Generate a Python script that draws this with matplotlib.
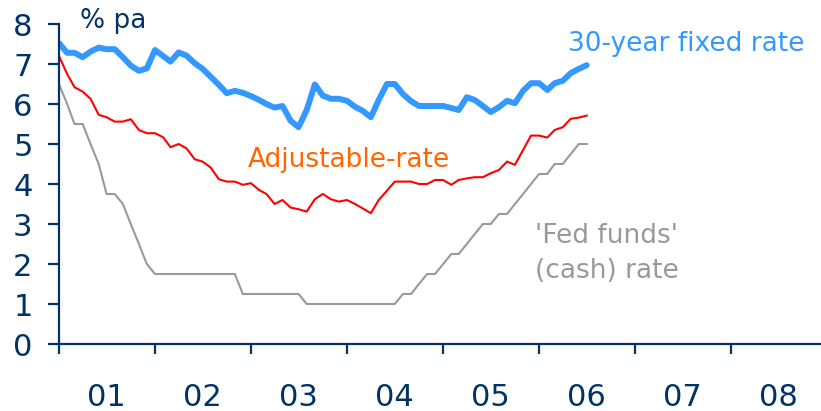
import numpy as np
import pandas as pd
import matplotlib
matplotlib.use('Agg')
from matplotlib import pyplot as plt
import matplotlib.dates as mdates

# monthly data, Jan 2001 onwards
months = pd.date_range('2001-01-01', periods=67, freq='MS')

fixed_30y = [7.52, 7.28, 7.28, 7.17, 7.31, 7.41, 7.37, 7.37, 7.17, 6.96, 6.83, 6.89,
             7.35, 7.20, 7.06, 7.29, 7.21, 7.02, 6.88, 6.68, 6.48, 6.27, 6.33, 6.28,
             6.20, 6.10, 6.00, 5.91, 5.95, 5.58, 5.42, 5.85, 6.49, 6.21, 6.13, 6.13,
             6.08, 5.93, 5.83, 5.67, 6.10, 6.50, 6.50, 6.25, 6.07, 5.95, 5.95, 5.95,
             5.95, 5.90, 5.85, 6.17, 6.10, 5.95, 5.80, 5.92, 6.08, 6.02, 6.33, 6.52,
             6.52, 6.35, 6.52, 6.58, 6.77, 6.88, 6.97]

adjustable = [7.20, 6.75, 6.42, 6.31, 6.13, 5.73, 5.67, 5.56, 5.56, 5.62, 5.35, 5.27,
              5.27, 5.17, 4.92, 5.00, 4.89, 4.62, 4.56, 4.41, 4.12, 4.06, 4.06, 3.98,
              4.02, 3.85, 3.75, 3.50, 3.60, 3.41, 3.37, 3.31, 3.62, 3.75, 3.62, 3.56,
              3.60, 3.50, 3.39, 3.27, 3.60, 3.83, 4.06, 4.06, 4.06, 4.00, 4.00, 4.10,
              4.10, 3.98, 4.10, 4.14, 4.17, 4.17, 4.27, 4.35, 4.56, 4.48, 4.85, 5.21,
              5.21, 5.16, 5.35, 5.42, 5.63, 5.66, 5.71]

fed_funds = [6.50, 6.00, 5.50, 5.50, 5.00, 4.50, 3.75, 3.75, 3.50, 3.00, 2.50, 2.00,
             1.75, 1.75, 1.75, 1.75, 1.75, 1.75, 1.75, 1.75, 1.75, 1.75, 1.75, 1.25,
             1.25, 1.25, 1.25, 1.25, 1.25, 1.25, 1.25, 1.00, 1.00, 1.00, 1.00, 1.00,
             1.00, 1.00, 1.00, 1.00, 1.00, 1.00, 1.00, 1.25, 1.25, 1.50, 1.75, 1.75,
             2.00, 2.25, 2.25, 2.50, 2.75, 3.00, 3.00, 3.25, 3.25, 3.50, 3.75, 4.00,
             4.25, 4.25, 4.50, 4.50, 4.75, 5.00, 5.00]

year_labels = ['01', '02', '03', '04', '05', '06', '07', '08']
y_ticks = [0, 1, 2, 3, 4, 5, 6, 7, 8]

navy = '#003366'
blue = '#3399ff'

fig = plt.figure(figsize=(8.21, 4.11), dpi=100)
ax = fig.add_axes([59/821, 67/411, (821-59)/821, 320/411])

ax.plot(months, fed_funds, color='#999999', lw=1.5)
ax.plot(months, adjustable, color='#ff0000', lw=1.5)
ax.plot(months, fixed_30y, color=blue, lw=4.3, solid_capstyle='round', solid_joinstyle='round')

ax.set_ylim(0, 8)
ax.set_xlim(pd.Timestamp('2001-01-01'), pd.Timestamp('2008-12-08'))
ax.set_yticks(y_ticks)

years = pd.date_range('2001-01-01', periods=8, freq='YS')
ax.set_xticks(years)
ax.set_xticklabels([])
ax.set_xticks(years + pd.DateOffset(months=6), minor=True)
ax.set_xticklabels(year_labels, minor=True)

for s in ['top', 'right']:
    ax.spines[s].set_visible(False)
for s in ['left', 'bottom']:
    ax.spines[s].set_color(navy)
    ax.spines[s].set_linewidth(1.6)

ax.tick_params(axis='y', direction='out', length=8, width=1.6, color=navy,
               labelcolor=navy, labelsize=22, pad=11)
ax.tick_params(axis='x', which='major', direction='out', length=7, width=1.6, color=navy)
ax.tick_params(axis='x', which='minor', length=0, labelcolor=navy, labelsize=22, pad=28)

def yr(x):
    # decimal year -> date
    return pd.Timestamp('2001-01-01') + pd.Timedelta(days=(x - 2001) * 365.25)

ax.text(yr(2001.22), 7.89, '% pa', color=navy, fontsize=19, va='baseline', clip_on=False)
ax.text(yr(2006.30), 7.33, '30-year fixed rate', color=blue, fontsize=19, va='baseline')
ax.text(yr(2002.97), 4.43, 'Adjustable-rate', color='#ff6600', fontsize=19, va='baseline')
ax.text(yr(2007.45), 2.52, "'Fed funds'", color='#999999', fontsize=19, va='baseline', ha='right')
ax.text(yr(2007.45), 1.66, '(cash) rate', color='#999999', fontsize=19, va='baseline', ha='right')

fig.savefig('out.png', dpi=100)
